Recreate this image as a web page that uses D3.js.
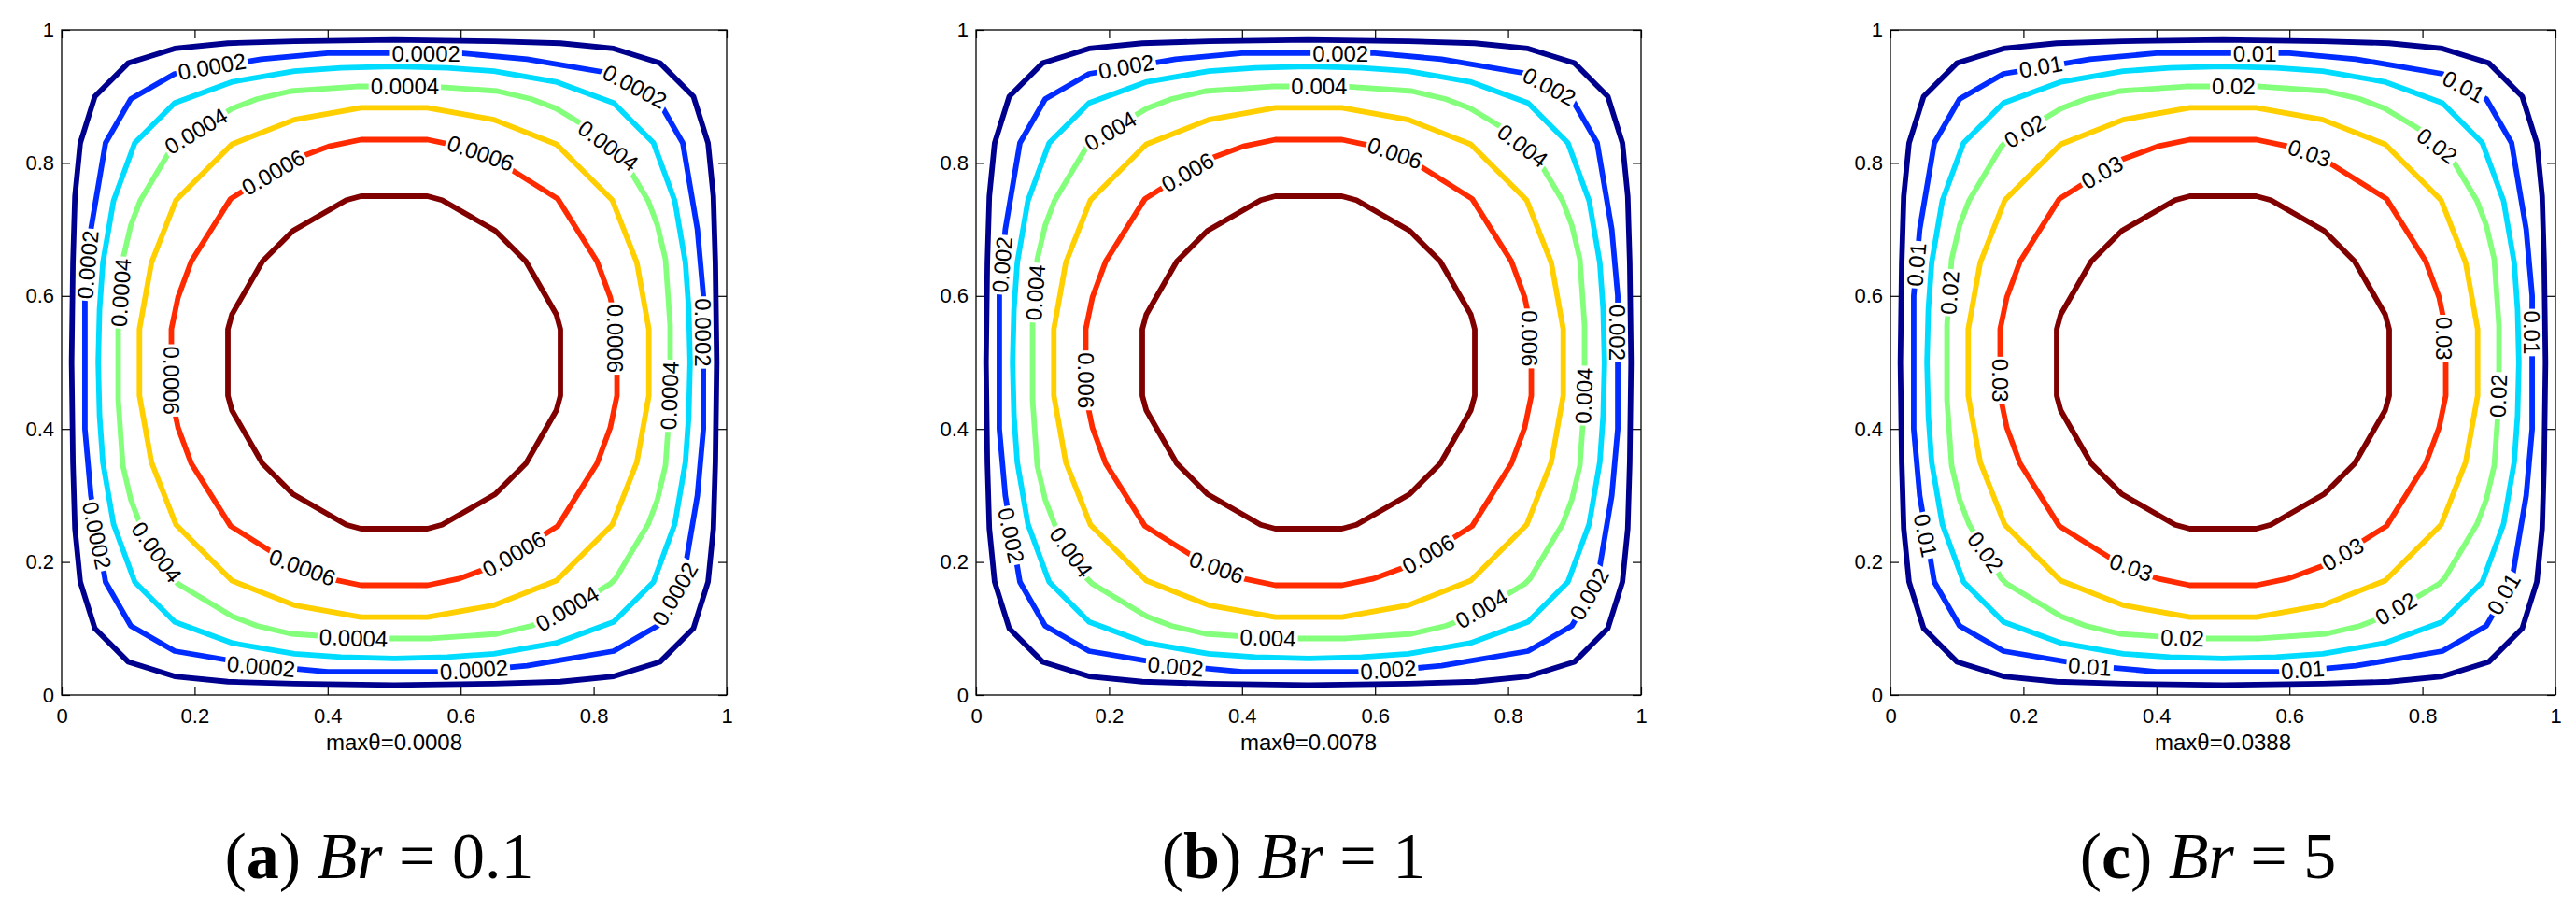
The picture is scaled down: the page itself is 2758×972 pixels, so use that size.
<!DOCTYPE html>
<html>
<head>
<meta charset="utf-8">
<script src="https://cdn.jsdelivr.net/npm/d3@7"></script>
<style>
  body { margin: 0; background: #fff; }
  svg { display: block; }
</style>
</head>
<body>
<svg id="fig"></svg>
<script>
// values (they share the same contour shapes)
const axisTicks = [0, 0.2, 0.4, 0.6, 0.8, 1];
const panelTags = ["a", "b", "c"];
const brValues = ["0.1", "1", "5"];
const maxTheta = ["0.0008", "0.0078", "0.0388"];
// text of the labelled levels (blue, green, red) in each panel
const levelText = [
    ["0.0002", "0.0004", "0.0006"],
    ["0.002", "0.004", "0.006"],
    ["0.01", "0.02", "0.03"]
];
const contourColors = ["#00008f", "#002cff", "#00dcff", "#84ff7c", "#ffcf00", "#ff2a00", "#800000"];

// contour lines, outermost to innermost, [x, y] in axis units
const ringNavy = [
    [0.015, 0.5], [0.017, 0.65], [0.02, 0.75], [0.028, 0.83], [0.05, 0.9], [0.1, 0.95], [0.17, 0.972], [0.25, 0.98], [0.35, 0.983], [0.5, 0.985],
    [0.65, 0.983], [0.75, 0.98], [0.83, 0.972], [0.9, 0.95], [0.95, 0.9], [0.972, 0.83], [0.98, 0.75], [0.983, 0.65], [0.985, 0.5],
    [0.983, 0.35], [0.98, 0.25], [0.972, 0.17], [0.95, 0.1], [0.9, 0.05], [0.83, 0.028], [0.75, 0.02], [0.65, 0.017], [0.5, 0.015],
    [0.35, 0.017], [0.25, 0.02], [0.17, 0.028], [0.1, 0.05], [0.05, 0.1], [0.028, 0.17], [0.02, 0.25], [0.017, 0.35]
];
const ringBlue = [
    [0.035, 0.5], [0.035, 0.6], [0.044, 0.7], [0.066, 0.83], [0.104, 0.896], [0.17, 0.934], [0.3, 0.956], [0.4, 0.965], [0.5, 0.965],
    [0.6, 0.965], [0.7, 0.956], [0.83, 0.934], [0.896, 0.896], [0.934, 0.83], [0.956, 0.7], [0.965, 0.6], [0.965, 0.5],
    [0.965, 0.4], [0.956, 0.3], [0.934, 0.17], [0.896, 0.104], [0.83, 0.066], [0.7, 0.044], [0.6, 0.035], [0.5, 0.035],
    [0.4, 0.035], [0.3, 0.044], [0.17, 0.066], [0.104, 0.104], [0.066, 0.17], [0.044, 0.3], [0.035, 0.4]
];
const ringCyan = [
    [0.055, 0.5], [0.057, 0.58], [0.062, 0.65], [0.078, 0.743], [0.11, 0.83], [0.17, 0.89], [0.257, 0.922], [0.35, 0.938], [0.42, 0.943], [0.5, 0.945],
    [0.58, 0.943], [0.65, 0.938], [0.743, 0.922], [0.83, 0.89], [0.89, 0.83], [0.922, 0.743], [0.938, 0.65], [0.943, 0.58], [0.945, 0.5],
    [0.943, 0.42], [0.938, 0.35], [0.922, 0.257], [0.89, 0.17], [0.83, 0.11], [0.743, 0.078], [0.65, 0.062], [0.58, 0.057], [0.5, 0.055],
    [0.42, 0.057], [0.35, 0.062], [0.257, 0.078], [0.17, 0.11], [0.11, 0.17], [0.078, 0.257], [0.062, 0.35], [0.057, 0.42]
];
const ringGreen = [
    [0.085, 0.5], [0.085, 0.556], [0.092, 0.655], [0.104, 0.706], [0.118, 0.743], [0.167, 0.825], [0.175, 0.833], [0.257, 0.882], [0.294, 0.896], [0.345, 0.908], [0.444, 0.915], [0.5, 0.915],
    [0.556, 0.915], [0.655, 0.908], [0.706, 0.896], [0.743, 0.882], [0.825, 0.833], [0.833, 0.825], [0.882, 0.743], [0.896, 0.706], [0.908, 0.655], [0.915, 0.556], [0.915, 0.5],
    [0.915, 0.444], [0.908, 0.345], [0.896, 0.294], [0.882, 0.257], [0.833, 0.175], [0.825, 0.167], [0.743, 0.118], [0.706, 0.104], [0.655, 0.092], [0.556, 0.085], [0.5, 0.085],
    [0.444, 0.085], [0.345, 0.092], [0.294, 0.104], [0.257, 0.118], [0.175, 0.167], [0.167, 0.175], [0.118, 0.257], [0.104, 0.294], [0.092, 0.345], [0.085, 0.444]
];
const ringOrange = [
    [0.117, 0.5], [0.117, 0.55], [0.135, 0.65], [0.172, 0.744], [0.256, 0.828], [0.35, 0.865], [0.45, 0.883], [0.5, 0.883],
    [0.55, 0.883], [0.65, 0.865], [0.744, 0.828], [0.828, 0.744], [0.865, 0.65], [0.883, 0.55], [0.883, 0.5],
    [0.883, 0.45], [0.865, 0.35], [0.828, 0.256], [0.744, 0.172], [0.65, 0.135], [0.55, 0.117], [0.5, 0.117],
    [0.45, 0.117], [0.35, 0.135], [0.256, 0.172], [0.172, 0.256], [0.135, 0.35], [0.117, 0.45]
];
const ringRed = [
    [0.165, 0.5], [0.165, 0.55], [0.175, 0.598], [0.195, 0.652], [0.254, 0.746], [0.348, 0.805], [0.402, 0.825], [0.45, 0.835], [0.5, 0.835],
    [0.55, 0.835], [0.598, 0.825], [0.652, 0.805], [0.746, 0.746], [0.805, 0.652], [0.825, 0.598], [0.835, 0.55], [0.835, 0.5],
    [0.835, 0.45], [0.825, 0.402], [0.805, 0.348], [0.746, 0.254], [0.652, 0.195], [0.598, 0.175], [0.55, 0.165], [0.5, 0.165],
    [0.45, 0.165], [0.402, 0.175], [0.348, 0.195], [0.254, 0.254], [0.195, 0.348], [0.175, 0.402], [0.165, 0.45]
];
const ringDarkRed = [
    [0.25, 0.5], [0.25, 0.55], [0.256, 0.572], [0.302, 0.652], [0.348, 0.698], [0.428, 0.744], [0.45, 0.75], [0.5, 0.75],
    [0.55, 0.75], [0.572, 0.744], [0.652, 0.698], [0.698, 0.652], [0.744, 0.572], [0.75, 0.55], [0.75, 0.5],
    [0.75, 0.45], [0.744, 0.428], [0.698, 0.348], [0.652, 0.302], [0.572, 0.256], [0.55, 0.25], [0.5, 0.25],
    [0.45, 0.25], [0.428, 0.256], [0.348, 0.302], [0.302, 0.348], [0.256, 0.428], [0.25, 0.45]
];
const contourRings = [ringNavy, ringBlue, ringCyan, ringGreen, ringOrange, ringRed, ringDarkRed];

// inline labels: [ring index, x, y, text angle]
const labelSpots = [
    [1, 0.226, 0.945, -10], [1, 0.548, 0.965, 0], [1, 0.862, 0.915, 28], [1, 0.039, 0.647, -85], [1, 0.965, 0.545, 90],
    [1, 0.053, 0.24, 78], [1, 0.922, 0.152, -60], [1, 0.30, 0.043, 5], [1, 0.62, 0.038, -4],
    [3, 0.202, 0.848, -31], [3, 0.516, 0.915, 0], [3, 0.822, 0.826, 37], [3, 0.089, 0.605, -86], [3, 0.914, 0.45, -88],
    [3, 0.143, 0.215, 54], [3, 0.76, 0.13, -30], [3, 0.439, 0.086, 2],
    [5, 0.318, 0.786, -30], [5, 0.63, 0.815, 19], [5, 0.165, 0.473, 90], [5, 0.832, 0.536, 90],
    [5, 0.362, 0.192, 20], [5, 0.68, 0.212, -30]
];

const W = 2758, H = 972;
const size = 712, plotTop = 32;
const lefts = [66, 1045, 2024];

const svg = d3.select("#fig").attr("width", W).attr("height", H);
const defs = svg.append("defs");

lefts.forEach((left, p) => {
    const x = d3.scaleLinear().domain([0, 1]).range([left, left + size]);
    const y = d3.scaleLinear().domain([0, 1]).range([plotTop + size, plotTop]);
    const g = svg.append("g");

    const line = d3.line()
        .x(d => x(d[0]))
        .y(d => y(d[1]))
        .curve(d3.curveLinearClosed);

    const lineG = g.append("g");
    const textG = g.append("g")
        .attr("font-family", "'Liberation Sans', Arial, sans-serif")
        .attr("font-size", 24)
        .attr("fill", "#000");

    // labels first, so their length is known for the gaps in the lines
    const spots = labelSpots.map(s => {
        const cx = x(s[1]), cy = y(s[2]);
        const t = textG.append("text")
            .attr("transform", `translate(${cx},${cy}) rotate(${s[3]})`)
            .attr("text-anchor", "middle")
            .attr("dy", "0.36em")
            .text(levelText[p][(s[0] - 1) / 2]);
        return { ring: s[0], cx, cy, ang: s[3], len: t.node().getComputedTextLength() };
    });

    contourRings.forEach((ring, k) => {
        const id = `gap${p}_${k}`;
        const m = defs.append("mask")
            .attr("id", id)
            .attr("maskUnits", "userSpaceOnUse")
            .attr("x", 0).attr("y", 0).attr("width", W).attr("height", H);
        m.append("rect").attr("width", W).attr("height", H).attr("fill", "white");
        spots.filter(s => s.ring === k).forEach(s => {
            m.append("rect")
                .attr("x", -s.len / 2 - 2)
                .attr("y", -14)
                .attr("width", s.len + 4)
                .attr("height", 28)
                .attr("transform", `translate(${s.cx},${s.cy}) rotate(${s.ang})`)
                .attr("fill", "black");
        });
        lineG.append("path")
            .datum(ring)
            .attr("d", line)
            .attr("fill", "none")
            .attr("stroke", contourColors[k])
            .attr("stroke-width", 5.8)
            .attr("stroke-linejoin", "round")
            .attr("mask", `url(#${id})`);
    });

    // axes, ticks pointing inward on all four sides
    const axisFont = a => a.attr("font-size", 22)
        .attr("font-family", "'Liberation Sans', Arial, sans-serif")
        .call(s => s.select(".domain").remove())
        .call(s => s.selectAll(".tick line").attr("stroke-width", 1.2));

    g.append("g")
        .attr("transform", `translate(0,${plotTop + size})`)
        .call(d3.axisBottom(x).tickValues(axisTicks).tickFormat(d => d).tickSizeInner(-9).tickSizeOuter(0).tickPadding(14))
        .call(axisFont);
    g.append("g")
        .attr("transform", `translate(${left},0)`)
        .call(d3.axisLeft(y).tickValues(axisTicks).tickFormat(d => d).tickSizeInner(-9).tickSizeOuter(0).tickPadding(8))
        .call(axisFont);
    g.append("g")
        .attr("transform", `translate(0,${plotTop})`)
        .call(d3.axisTop(x).tickValues(axisTicks).tickFormat("").tickSizeInner(-9).tickSizeOuter(0))
        .call(axisFont);
    g.append("g")
        .attr("transform", `translate(${left + size},0)`)
        .call(d3.axisRight(y).tickValues(axisTicks).tickFormat("").tickSizeInner(-9).tickSizeOuter(0))
        .call(axisFont);

    g.append("rect")
        .attr("x", left).attr("y", plotTop)
        .attr("width", size).attr("height", size)
        .attr("fill", "none")
        .attr("stroke", "#000")
        .attr("stroke-width", 1.3);

    g.append("text")
        .attr("x", x(0.5))
        .attr("y", 803)
        .attr("text-anchor", "middle")
        .attr("font-family", "'Liberation Sans', Arial, sans-serif")
        .attr("font-size", 24)
        .text(`max\u03b8=${maxTheta[p]}`);

    // sub-figure caption
    const cap = g.append("text")
        .attr("x", x(0.5) - 16)
        .attr("y", 940)
        .attr("text-anchor", "middle")
        .attr("font-family", "'Liberation Serif', 'Times New Roman', serif")
        .attr("font-size", 70);
    cap.append("tspan").text("(");
    cap.append("tspan").attr("font-weight", "bold").text(panelTags[p]);
    cap.append("tspan").text(") ");
    cap.append("tspan").attr("font-style", "italic").text("Br");
    cap.append("tspan").text(` = ${brValues[p]}`);
});
</script>
</body>
</html>
